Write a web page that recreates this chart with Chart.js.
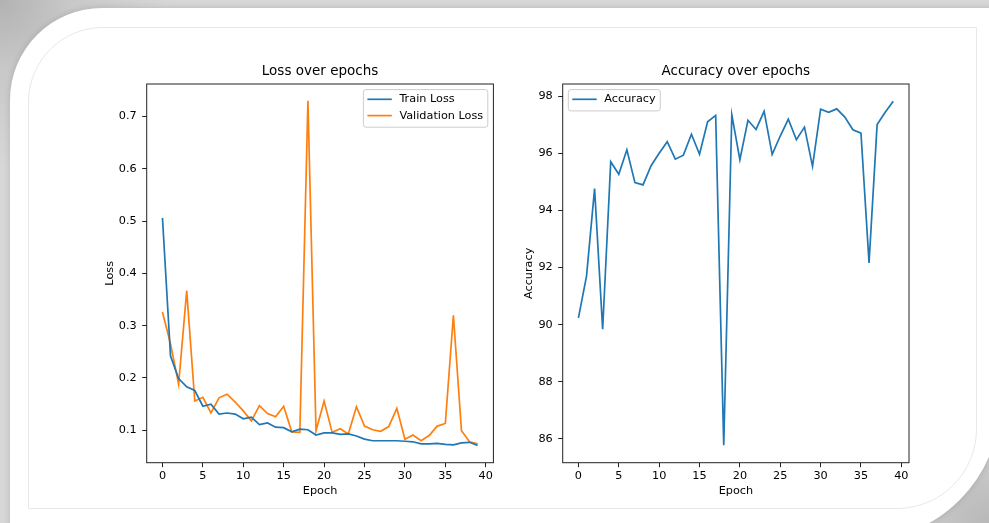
<!DOCTYPE html>
<html>
<head>
<meta charset="utf-8">
<script src="https://cdn.jsdelivr.net/npm/chart.js@4"></script>
<style>
html,body{margin:0;padding:0;}
body{width:989px;height:523px;overflow:hidden;position:relative;
 background:
  radial-gradient(circle at 0 0, #b2b2b2 0px, #c8c8c8 70px, rgba(214,214,214,0) 170px),
  radial-gradient(circle at 100% 100%, #b8b8b8 0px, #c9c9c9 60px, rgba(214,214,214,0) 150px),
  #d7d7d7;}
#card{position:absolute;left:10px;top:8px;width:990px;height:532px;background:#fff;border-radius:92px 0 137px 0;box-shadow:0 0 6px rgba(0,0,0,0.15);}
#inner{position:absolute;left:28px;top:27px;width:949px;height:482px;border:1px solid #e8e8e8;border-radius:75px 0 80px 0;box-sizing:border-box;}
canvas{position:absolute;}
</style>
</head>
<body>
<div id="card"></div>
<div id="inner"></div>
<canvas id="lossChart" width="470" height="470" style="left:60px;top:40px;width:470px;height:470px;"></canvas>
<canvas id="accChart" width="460" height="470" style="left:490px;top:40px;width:460px;height:470px;"></canvas>
<script>
const epochs = [0,1,2,3,4,5,6,7,8,9,10,11,12,13,14,15,16,17,18,19,20,21,22,23,24,25,26,27,28,29,30,31,32,33,34,35,36,37,38,39];
const trainLoss = [0.506,0.242,0.199,0.183,0.176,0.146,0.150,0.131,0.133,0.131,0.122,0.125,0.111,0.114,0.106,0.105,0.097,0.102,0.101,0.091,0.095,0.095,0.092,0.093,0.089,0.083,0.080,0.080,0.080,0.080,0.079,0.078,0.074,0.074,0.075,0.073,0.072,0.076,0.077,0.071];
const valLoss = [0.326,0.265,0.188,0.367,0.156,0.163,0.133,0.162,0.169,0.154,0.137,0.118,0.147,0.132,0.126,0.146,0.097,0.096,0.730,0.099,0.156,0.096,0.103,0.093,0.145,0.108,0.101,0.098,0.107,0.142,0.083,0.091,0.080,0.090,0.108,0.113,0.320,0.099,0.078,0.074];
const accuracy = [90.24,91.70,94.76,89.84,95.70,95.26,96.12,94.97,94.89,95.56,96.00,96.40,95.79,95.93,96.66,95.96,97.10,97.32,85.78,97.34,95.77,97.15,96.83,97.46,95.96,96.60,97.19,96.47,96.91,95.54,97.54,97.43,97.55,97.26,96.82,96.70,92.16,97.00,97.43,97.82];
const epochTicks = [0,5,10,15,20,25,30,35,40];
const lossTicks = [0.1,0.2,0.3,0.4,0.5,0.6,0.7];
const accTicks = [86,88,90,92,94,96,98];

const FONT = "'DejaVu Sans', 'Liberation Sans', sans-serif";
Chart.defaults.font.family = FONT;
Chart.defaults.color = '#000';

const framePlugin = {
  id: 'frame',
  afterDatasetsDraw(chart) {
    const {ctx, chartArea: a} = chart;
    ctx.save();
    ctx.strokeStyle = '#222';
    ctx.lineWidth = 1;
    ctx.strokeRect(a.left, a.top, a.right - a.left, a.bottom - a.top);
    ctx.restore();
  }
};

const legendPlugin = {
  id: 'mplLegend',
  afterDraw(chart, args, opts) {
    const {ctx, chartArea: a} = chart;
    const ds = chart.data.datasets;
    ctx.save();
    ctx.font = "11.25px " + FONT;
    const tw = Math.max(...ds.map(d => ctx.measureText(d.label).width));
    const rowH = 16.3;
    const w = 36 + tw + 4.6, h = ds.length * rowH + 5;
    const pad = 5.6;
    const x = opts.align === 'right' ? a.right - pad - w : a.left + pad;
    const y = a.top + pad;
    ctx.beginPath();
    ctx.roundRect(x, y, w, h, 2.5);
    ctx.fillStyle = 'rgba(255,255,255,0.8)';
    ctx.fill();
    ctx.strokeStyle = '#cccccc';
    ctx.lineWidth = 1;
    ctx.stroke();
    ds.forEach((d, i) => {
      const ry = y + 9.7 + i * rowH;
      ctx.beginPath();
      ctx.moveTo(x + 4, ry);
      ctx.lineTo(x + 28.4, ry);
      ctx.strokeStyle = d.borderColor;
      ctx.lineWidth = d.borderWidth;
      ctx.stroke();
      ctx.fillStyle = '#000';
      ctx.textBaseline = 'middle';
      ctx.textAlign = 'left';
      ctx.fillText(d.label, x + 36, ry);
    });
    ctx.restore();
  }
};

function pts(ys) { return epochs.map((e, i) => ({x: e, y: ys[i]})); }

function makeChart(id, datasets, cfg) {
  return new Chart(document.getElementById(id), {
    type: 'line',
    data: {datasets},
    plugins: [framePlugin, legendPlugin],
    options: {
      responsive: false,
      animation: false,
      devicePixelRatio: 1,
      events: [],
      layout: {padding: {left: 0, top: 23.8, right: cfg.padRight, bottom: 0}},
      elements: {point: {radius: 0}, line: {tension: 0}},
      plugins: {
        legend: {display: false},
        tooltip: {enabled: false},
        title: {display: true, text: cfg.title, fullSize: false,
                font: {size: 13.5, weight: 'normal', family: FONT}, color: '#000',
                padding: {top: 0, bottom: 4}},
        mplLegend: {align: cfg.legendAlign}
      },
      scales: {
        x: {
          type: 'linear', min: -1.95, max: 40.95,
          afterBuildTicks: s => { s.ticks = epochTicks.map(v => ({value: v})); },
          afterFit: s => { s.height = 47.3; },
          border: {display: false},
          grid: {display: true, drawOnChartArea: false, drawTicks: true, tickLength: 4.5, tickColor: '#222', tickWidth: 1},
          ticks: {autoSkip: false, maxRotation: 0, padding: 2.5, font: {size: 11.25}, color: '#000',
                  callback: v => String(v)},
          title: {display: true, text: 'Epoch', font: {size: 11.25}, color: '#000', padding: {top: 0, bottom: 12.25}}
        },
        y: {
          type: 'linear', min: cfg.yMin, max: cfg.yMax,
          afterBuildTicks: s => { s.ticks = cfg.yTicks.map(v => ({value: v})); },
          afterFit: s => { s.width = cfg.yWidth; },
          border: {display: false},
          grid: {display: true, drawOnChartArea: false, drawTicks: true, tickLength: 4.5, tickColor: '#222', tickWidth: 1},
          ticks: {autoSkip: false, padding: 5.5, font: {size: 11.25}, color: '#000', callback: cfg.yFmt},
          title: {display: true, text: cfg.yTitle, font: {size: 11.25}, color: '#000', padding: {top: cfg.yTitlePad, bottom: 0}}
        }
      }
    }
  });
}

makeChart('lossChart', [
  {label: 'Train Loss', data: pts(trainLoss), borderColor: '#1f77b4', backgroundColor: '#1f77b4', borderWidth: 1.7, fill: false},
  {label: 'Validation Loss', data: pts(valLoss), borderColor: '#ff7f0e', backgroundColor: '#ff7f0e', borderWidth: 1.7, fill: false}
], {title: 'Loss over epochs', yTitle: 'Loss', yMin: 0.038, yMax: 0.762, yTicks: lossTicks,
    yFmt: v => v.toFixed(1), yWidth: 86.7, yTitlePad: 43.25, padRight: 36.6, legendAlign: 'right'});

makeChart('accChart', [
  {label: 'Accuracy', data: pts(accuracy), borderColor: '#1f77b4', backgroundColor: '#1f77b4', borderWidth: 1.7, fill: false}
], {title: 'Accuracy over epochs', yTitle: 'Accuracy', yMin: 85.17, yMax: 98.42, yTicks: accTicks,
    yFmt: v => String(v), yWidth: 72.7, yTitlePad: 32.25, padRight: 41, legendAlign: 'left'});
</script>
</body>
</html>
